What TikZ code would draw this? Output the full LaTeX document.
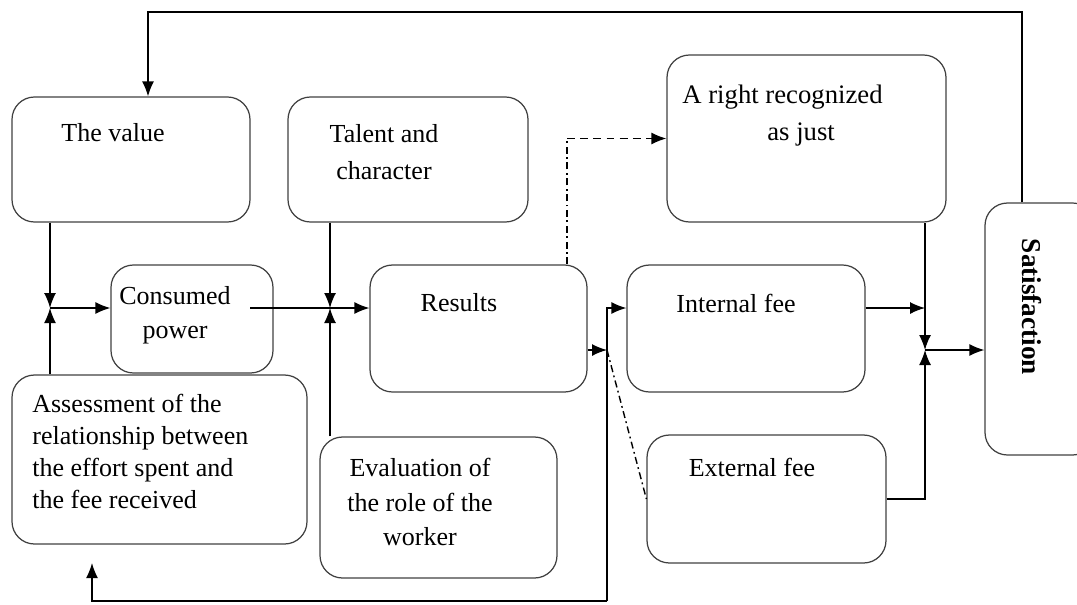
\documentclass[tikz,border=0pt]{standalone}
\usepackage{fontspec}
\setmainfont{Liberation Serif}
\usetikzlibrary{arrows.meta}

\begin{document}
\begin{tikzpicture}[
    box/.style={rectangle,draw=black!75,line width=0.7pt,rounded corners=0.45cm},
    txt/.style={inner sep=0pt,font=\fontsize{14.8}{18.3}\selectfont},
    flow/.style={-{Latex[length=0.3cm,width=0.24cm]},line width=0.8pt},
    dashdot/.style={line width=0.8pt,dash pattern=on 4pt off 2pt on 1pt off 2pt}]
  \useasboundingbox (0,0) rectangle (21.54,12.08);
  % boxes
  \node[box,minimum width=4.76cm,minimum height=2.5cm] (value) at (2.62,8.89) {};
  \node[box,minimum width=4.8cm,minimum height=2.5cm] (talent) at (8.16,8.89) {};
  \node[box,minimum width=5.58cm,minimum height=3.34cm] (right) at (16.13,9.31) {};
  \node[box,minimum width=3.24cm,minimum height=2.16cm] (consumed) at (3.84,5.70) {};
  \node[box,minimum width=4.34cm,minimum height=2.54cm] (results) at (9.57,5.51) {};
  \node[box,minimum width=4.76cm,minimum height=2.54cm] (internal) at (14.92,5.51) {};
  \node[box,minimum width=2.2cm,minimum height=5.04cm] (satis) at (20.8,5.50) {};
  \node[box,minimum width=5.9cm,minimum height=3.38cm] (assess) at (3.19,2.89) {};
  \node[box,minimum width=4.74cm,minimum height=2.82cm] (eval) at (8.77,1.93) {};
  \node[box,minimum width=4.78cm,minimum height=2.56cm] (external) at (15.33,2.10) {};
  % texts
  \node[txt] (valuetxt) at (2.26,9.42) {The value};
  \node[txt,align=center,font=\fontsize{14.8}{21}\selectfont] (talenttxt) at (7.68,9.04) {Talent and\\character};
  \node[txt,align=left,anchor=west,font=\fontsize{15.2}{21}\selectfont] (righttxt) at (13.64,9.76) {A right recognized\\\hspace*{1.7cm}as just};
  \node[txt,align=center,font=\fontsize{14.8}{19.3}\selectfont] (consumedtxt) at (3.50,5.78) {Consumed\\power};
  \node[txt] (resultstxt) at (9.18,6.02) {Results};
  \node[txt] (internaltxt) at (14.72,6.02) {Internal fee};
  \node[txt,rotate=-90,font=\fontsize{15.5}{18}\selectfont\bfseries] (satistxt) at (20.64,5.94) {Satisfaction};
  \node[txt,align=left,anchor=west] (assesstxt) at (0.64,3.05) {Assessment of the\\relationship between\\the effort spent and\\the fee received};
  \node[txt,align=center,font=\fontsize{14.8}{19.8}\selectfont] (evaltxt) at (8.40,2.04) {Evaluation of\\the role of the\\worker};
  \node[txt] (externaltxt) at (15.04,2.74) {External fee};
  % junctions and turns
  \coordinate (jl) at (1.0,5.92);
  \coordinate (jm) at (6.6,5.92);
  \coordinate (jr) at (18.5,5.08);
  \coordinate (cout) at (5.0,5.92);
  \coordinate (rr) at (12.14,5.08);
  \coordinate (fbcorner) at (12.14,0.06);
  \coordinate (fbtip) at (1.84,0.82);
  \coordinate (dd) at (11.34,9.31);
  \coordinate (tr) at (20.44,11.84);
  \coordinate (tl) at (2.96,11.84);
  % connectors
  \draw[flow] (tr |- satis.north) -- (tr) -- (tl) -- (tl |- value.north);
  \draw[flow] (jl |- value.south) -- (jl);
  \draw[flow] (jl |- assess.north) -- (jl);
  \draw[flow] (jl) -- (jl -| consumed.west);
  \draw[line width=0.8pt] (cout) -- (jm);
  \draw[flow] (jm |- talent.south) -- (jm);
  \draw[flow] (jm |- eval.north) -- (jm);
  \draw[flow] (jm) -- (jm -| results.west);
  \draw[flow] (results.east |- rr) -- (rr);
  \draw[flow] (fbcorner) -- (fbcorner |- jm) -- (internal.west |- jm);
  \draw[flow] (fbcorner) -| (fbtip);
  \draw[dashdot] (rr) -- (external.west);
  \draw[dashdot] (results.north -| dd) -- (dd);
  \draw[flow,dash pattern=on 4.5pt off 3pt] (dd) -- (right.west);
  \draw[flow] (internal.east |- jm) -- (jm -| jr);
  \draw[flow] (jr |- right.south) -- (jr);
  \draw[flow] (external.east) -| (jr);
  \draw[flow] (jr) -- (jr -| satis.west);
\end{tikzpicture}
\end{document}
